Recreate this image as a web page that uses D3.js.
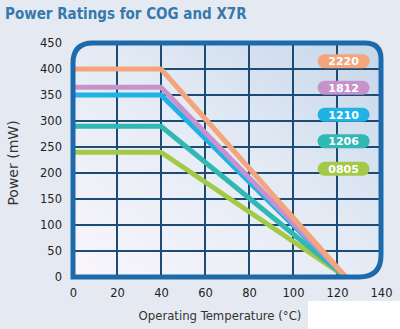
<!DOCTYPE html>
<html>
<head>
<meta charset="utf-8">
<script src="https://cdn.jsdelivr.net/npm/d3@7"></script>
<style>
  body { margin: 0; background: #e5eaf2; }
  svg { display: block; }
</style>
</head>
<body>
<div class="canvas"></div>
<script>
// chart data
const sizes = ['2220', '1812', '1210', '1206', '0805'];
const colors = ['#f3a57c', '#c792cb', '#20b1e6', '#31b8b3', '#a4c947'];
const temps = [0, 40, 124];
const ratings = [
    [400, 400, 0],
    [365, 365, 0],
    [350, 350, 0],
    [290, 290, 0],
    [240, 240, 0]
];
const xTicks = [0, 20, 40, 60, 80, 100, 120, 140];
const yTicks = [0, 50, 100, 150, 200, 250, 300, 350, 400, 450];
const labelRows = [415, 364, 312, 261, 208]; // badge positions in mW

const svgWidth = 400;
const svgHeight = 329;

const svg = d3.select('.canvas')
    .append('svg')
        .attr('width', svgWidth)
        .attr('height', svgHeight);

const x = d3.scaleLinear().domain([0, 140]).range([73, 381]);
const y = d3.scaleLinear().domain([0, 450]).range([277, 43]);

// background gradient for the plot
const defs = svg.append('defs');
const grad = defs.append('linearGradient')
    .attr('id', 'bg')
    .attr('x1', '0%').attr('y1', '100%')
    .attr('x2', '100%').attr('y2', '0%');
grad.append('stop').attr('offset', '0%').attr('stop-color', '#f9f6fb');
grad.append('stop').attr('offset', '55%').attr('stop-color', '#e3eaf4');
grad.append('stop').attr('offset', '100%').attr('stop-color', '#c5d6ea');

// frame shape: rounded top-left, top-right, bottom-right
const x0 = x(0), x1 = x(140), yt = y(450), yb = y(0);
const r1 = 20, r2 = 16, r3 = 22;
const framePath = `M${x0},${yb} L${x0},${yt + r1} Q${x0},${yt} ${x0 + r1},${yt}
    L${x1 - r2},${yt} Q${x1},${yt} ${x1},${yt + r2}
    L${x1},${yb - r3} Q${x1},${yb} ${x1 - r3},${yb} Z`;

defs.append('clipPath').attr('id', 'clip')
    .append('path').attr('d', framePath);

svg.append('path')
    .attr('d', framePath)
    .attr('fill', 'url(#bg)');

const g = svg.append('g').attr('clip-path', 'url(#clip)');

// grid
g.selectAll('.vgrid')
    .data(xTicks.slice(1, -1))
    .enter().append('line')
        .attr('x1', d => x(d)).attr('x2', d => x(d))
        .attr('y1', yt).attr('y2', yb)
        .attr('stroke', '#1c4c75')
        .attr('stroke-width', 2);

g.selectAll('.hgrid')
    .data(yTicks.slice(1, -1))
    .enter().append('line')
        .attr('x1', x0).attr('x2', x1)
        .attr('y1', d => y(d)).attr('y2', d => y(d))
        .attr('stroke', '#1c4c75')
        .attr('stroke-width', 2);

// series lines
const line = d3.line()
    .x((d, i) => x(temps[i]))
    .y(d => y(d));

g.selectAll('.series')
    .data(ratings.slice().reverse())
    .enter().append('path')
        .attr('d', line)
        .attr('fill', 'none')
        .attr('stroke', (d, i) => colors[colors.length - 1 - i])
        .attr('stroke-width', 5)
        .attr('stroke-linejoin', 'round')
        .attr('stroke-linecap', 'round');

// frame
svg.append('path')
    .attr('d', framePath)
    .attr('fill', 'none')
    .attr('stroke', '#1c6aab')
    .attr('stroke-width', 5);

// badges
const badge = svg.selectAll('.badge')
    .data(sizes)
    .enter().append('g')
        .attr('transform', (d, i) => `translate(${x(123)}, ${y(labelRows[i])})`);

badge.append('rect')
    .attr('x', -26).attr('y', -7)
    .attr('width', 52).attr('height', 14)
    .attr('rx', 7)
    .attr('fill', (d, i) => colors[i]);

badge.append('text')
    .attr('text-anchor', 'middle')
    .attr('dy', '0.36em')
    .attr('fill', '#fff')
    .attr('font-family', 'DejaVu Sans')
    .attr('font-weight', 'bold')
    .attr('font-size', 11)
    .text(d => d);

// axes
const xAxis = d3.axisBottom(x).tickValues(xTicks).tickSize(0).tickPadding(12);
const yAxis = d3.axisLeft(y).tickValues(yTicks).tickSize(0).tickPadding(11);

const xAxisGroup = svg.append('g')
    .attr('transform', `translate(0, ${yb})`)
    .call(xAxis);
const yAxisGroup = svg.append('g')
    .attr('transform', `translate(${x0}, 0)`)
    .call(yAxis);

[xAxisGroup, yAxisGroup].forEach(ax => {
    ax.select('.domain').remove();
    ax.selectAll('text')
        .attr('font-family', 'DejaVu Sans')
        .attr('font-size', 11.5)
        .attr('fill', '#222');
});

// titles
svg.append('text')
    .attr('x', 5).attr('y', 19)
    .attr('font-family', 'DejaVu Sans Condensed')
    .attr('font-weight', 'bold')
    .attr('font-size', 15)
    .attr('fill', '#3579ad')
    .text('Power Ratings for COG and X7R');

svg.append('text')
    .attr('transform', 'translate(18, 163) rotate(-90)')
    .attr('text-anchor', 'middle')
    .attr('font-family', 'DejaVu Sans')
    .attr('font-size', 14)
    .attr('fill', '#333')
    .text('Power (mW)');

svg.append('text')
    .attr('x', 220).attr('y', 320)
    .attr('text-anchor', 'middle')
    .attr('font-family', 'DejaVu Sans Condensed')
    .attr('font-size', 13)
    .attr('fill', '#333')
    .text('Operating Temperature (°C)');

// white patch in the lower right corner of the source image
svg.append('rect')
    .attr('x', 308).attr('y', 301)
    .attr('width', 92).attr('height', 28)
    .attr('fill', '#fff');
</script>
</body>
</html>
